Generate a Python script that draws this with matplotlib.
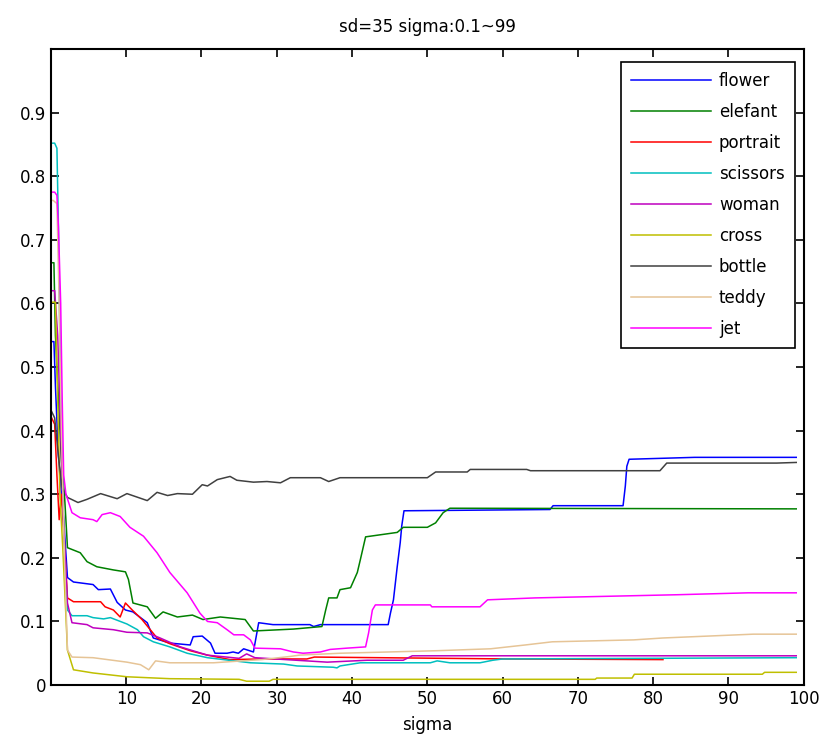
import matplotlib
matplotlib.use('Agg')
from matplotlib import pyplot as plt

# values (sigma, distance)
flower_x = [0.1, 0.4, 0.6, 1.0, 1.4, 1.7, 2.2, 3.0, 5.6, 6.3, 7.9, 8.8, 9.9, 10.9, 12.8, 13.6, 15.8,
            18.5, 18.9, 20.1, 21.2, 21.8, 23.4, 24.2, 24.9, 25.6, 26.9, 27.6, 29.5, 34.4, 34.9, 35.8,
            44.8, 45.1, 45.5, 46.0, 46.4, 46.6, 46.9, 66.3, 66.7, 76.0, 76.3, 76.5, 76.8, 85.5, 99.0]
flower_y = [0.54, 0.54, 0.47, 0.36, 0.30, 0.26, 0.169, 0.162, 0.158, 0.15, 0.151, 0.13, 0.118, 0.115,
            0.098, 0.074, 0.066, 0.063, 0.076, 0.077, 0.066, 0.05, 0.05, 0.052, 0.05, 0.057, 0.052,
            0.098, 0.095, 0.095, 0.092, 0.095, 0.095, 0.113, 0.134, 0.186, 0.224, 0.25, 0.274, 0.276,
            0.282, 0.282, 0.313, 0.344, 0.355, 0.358, 0.358]

elefant_x = [0.1, 0.4, 0.6, 1.0, 1.4, 1.8, 2.2, 3.9, 4.8, 6.1, 8.3, 9.9, 10.3, 10.9, 12.8, 13.9, 14.9,
             16.8, 18.8, 20.2, 22.5, 25.8, 26.9, 32.2, 36.0, 36.5, 36.9, 38.0, 38.4, 39.8, 40.7, 41.1,
             41.8, 46.0, 46.8, 50.0, 51.1, 52.1, 53.0, 99.0]
elefant_y = [0.664, 0.664, 0.55, 0.45, 0.35, 0.30, 0.216, 0.208, 0.194, 0.186, 0.181, 0.178, 0.166,
             0.129, 0.123, 0.105, 0.115, 0.107, 0.11, 0.103, 0.107, 0.103, 0.085, 0.088, 0.092, 0.118,
             0.137, 0.137, 0.15, 0.153, 0.177, 0.197, 0.233, 0.24, 0.248, 0.248, 0.255, 0.271, 0.278, 0.277]

portrait_x = [0.1, 0.5, 0.8, 1.1, 1.4, 1.8, 2.2, 3.0, 6.6, 7.2, 8.3, 9.2, 9.9, 10.8, 12.1, 13.2, 14.1,
              15.8, 18.5, 20.8, 23.8, 28.0, 34.0, 35.0, 61.0, 81.3]
portrait_y = [0.42, 0.41, 0.33, 0.26, 0.30, 0.22, 0.137, 0.131, 0.131, 0.123, 0.118, 0.107, 0.129,
              0.118, 0.103, 0.087, 0.074, 0.065, 0.054, 0.047, 0.04, 0.041, 0.041, 0.044, 0.041, 0.040]

scissors_x = [0.1, 0.5, 0.8, 1.0, 1.3, 1.7, 2.2, 2.8, 4.8, 5.6, 7.0, 7.9, 10.1, 11.5, 12.3, 13.6, 15.8,
              18.1, 20.8, 26.5, 30.9, 32.7, 37.5, 38.0, 38.4, 41.1, 50.4, 51.3, 53.0, 57.0, 58.7, 60.0, 99.0]
scissors_y = [0.852, 0.852, 0.844, 0.72, 0.45, 0.25, 0.118, 0.109, 0.109, 0.106, 0.104, 0.106, 0.096,
              0.087, 0.076, 0.068, 0.06, 0.05, 0.043, 0.035, 0.033, 0.03, 0.028, 0.027, 0.03, 0.035,
              0.035, 0.038, 0.035, 0.035, 0.039, 0.041, 0.043]

woman_x = [0.1, 0.5, 0.9, 1.3, 1.7, 2.2, 2.8, 4.8, 5.6, 8.3, 10.1, 12.8, 14.5, 17.2, 20.8, 25.0, 26.0,
           27.1, 36.7, 42.0, 46.8, 48.0, 99.0]
woman_y = [0.62, 0.62, 0.55, 0.40, 0.25, 0.129, 0.098, 0.095, 0.09, 0.087, 0.083, 0.082, 0.074, 0.06,
           0.047, 0.042, 0.049, 0.043, 0.036, 0.039, 0.039, 0.046, 0.046]

cross_x = [0.1, 0.6, 0.9, 1.2, 1.6, 2.2, 3.0, 5.6, 10.1, 15.8, 25.0, 26.0, 29.0, 29.5, 72.3, 72.5,
           77.2, 77.5, 94.5, 94.8, 99.0]
cross_y = [0.602, 0.602, 0.45, 0.30, 0.21, 0.055, 0.024, 0.019, 0.013, 0.01, 0.009, 0.006, 0.006,
           0.009, 0.009, 0.011, 0.011, 0.017, 0.017, 0.02, 0.02]

bottle_x = [0.1, 0.5, 1.0, 1.5, 2.2, 3.6, 4.8, 6.6, 8.8, 10.1, 12.8, 14.1, 15.5, 16.8, 18.8, 20.1,
            20.8, 22.1, 23.8, 24.7, 26.9, 28.7, 30.5, 31.8, 35.8, 36.9, 38.4, 50.0, 51.1, 55.3, 55.7,
            63.2, 63.7, 80.9, 81.8, 96.4, 99.0]
bottle_y = [0.43, 0.42, 0.36, 0.31, 0.295, 0.287, 0.292, 0.301, 0.293, 0.301, 0.29, 0.303, 0.298,
            0.301, 0.30, 0.315, 0.313, 0.323, 0.328, 0.322, 0.319, 0.32, 0.318, 0.326, 0.326, 0.32,
            0.326, 0.326, 0.335, 0.335, 0.339, 0.339, 0.337, 0.337, 0.349, 0.349, 0.35]

teddy_x = [0.1, 0.3, 0.8, 1.1, 1.4, 1.8, 2.2, 2.8, 5.6, 10.1, 11.9, 13.0, 13.9, 15.8, 21.6, 28.0,
           31.8, 33.0, 38.4, 51.3, 58.4, 63.0, 66.6, 77.4, 81.3, 93.3, 99.0]
teddy_y = [0.762, 0.762, 0.757, 0.60, 0.40, 0.20, 0.055, 0.044, 0.043, 0.036, 0.032, 0.024, 0.038,
           0.035, 0.035, 0.04, 0.045, 0.047, 0.05, 0.054, 0.057, 0.063, 0.068, 0.071, 0.074, 0.08, 0.08]

jet_x = [0.1, 0.5, 0.8, 1.0, 1.3, 1.5, 1.7, 2.0, 2.8, 3.9, 5.6, 6.1, 6.8, 7.9, 9.2, 10.5, 12.3, 14.1,
         15.8, 18.1, 19.8, 20.8, 22.1, 23.4, 24.3, 25.6, 26.5, 27.1, 30.5, 32.2, 33.5, 35.8, 37.1,
         39.3, 41.8, 42.2, 42.7, 43.1, 50.4, 50.6, 57.0, 58.0, 64.3, 83.2, 92.6, 99.0]
jet_y = [0.775, 0.775, 0.77, 0.72, 0.60, 0.45, 0.33, 0.30, 0.271, 0.263, 0.26, 0.257, 0.268, 0.271,
         0.265, 0.248, 0.234, 0.208, 0.177, 0.145, 0.113, 0.10, 0.098, 0.087, 0.079, 0.079, 0.071,
         0.058, 0.057, 0.052, 0.05, 0.052, 0.056, 0.058, 0.06, 0.082, 0.118, 0.126, 0.126, 0.123,
         0.123, 0.134, 0.137, 0.142, 0.145, 0.145]

names = ['flower', 'elefant', 'portrait', 'scissors', 'woman', 'cross', 'bottle', 'teddy', 'jet']
colors = ['#0000ff', '#008000', '#ff0000', '#00bfbf', '#bf00bf', '#bfbf00', '#404040', '#e6c496', '#ff00ff']
series = [(flower_x, flower_y), (elefant_x, elefant_y), (portrait_x, portrait_y),
          (scissors_x, scissors_y), (woman_x, woman_y), (cross_x, cross_y),
          (bottle_x, bottle_y), (teddy_x, teddy_y), (jet_x, jet_y)]

xticks = [10, 20, 30, 40, 50, 60, 70, 80, 90, 100]
yticks = [0, 0.1, 0.2, 0.3, 0.4, 0.5, 0.6, 0.7, 0.8, 0.9]
ytick_labels = ['0', '0.1', '0.2', '0.3', '0.4', '0.5', '0.6', '0.7', '0.8', '0.9']

fig = plt.figure(figsize=(8.21, 7.43), dpi=100)
ax = fig.add_axes([0.062, 0.078, 0.917, 0.856])

for (xs, ys), name, c in zip(series, names, colors):
    ax.plot(xs, ys, color=c, lw=1.1, label=name)

ax.set_xlim(0, 100)
ax.set_ylim(0, 1)
ax.set_xticks(xticks)
ax.set_yticks(yticks)
ax.set_yticklabels(ytick_labels)
ax.tick_params(direction='in', top=True, right=True, length=6, width=1.2, labelsize=12)
for sp in ax.spines.values():
    sp.set_linewidth(1.5)

ax.set_title('sd=35 sigma:0.1~99', fontsize=12, pad=12)
ax.set_xlabel('sigma', fontsize=12, labelpad=6)

leg = ax.legend(loc='upper right', bbox_to_anchor=(0.988, 0.98), fontsize=12, handlelength=4.8,
                labelspacing=0.78, fancybox=False, framealpha=1, borderpad=0.6, handletextpad=0.5,
                borderaxespad=0)
leg.get_frame().set_edgecolor('black')
leg.get_frame().set_linewidth(1.2)

plt.savefig('out.png', dpi=100)
